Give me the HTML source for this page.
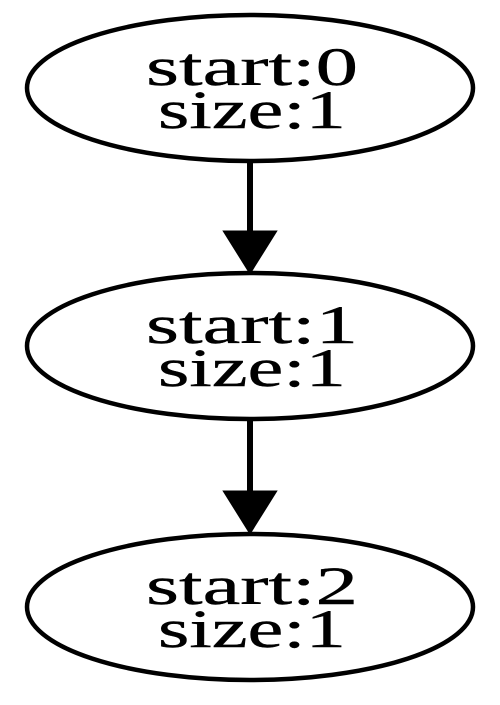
<!DOCTYPE html>
<html><head><style>html,body{margin:0;padding:0;background:#fff;}</style></head>
<body>
<svg width="500" height="700" viewBox="0 0 500 700" xmlns="http://www.w3.org/2000/svg">
<g fill="none" stroke="#000" stroke-width="4.5">
<ellipse cx="250" cy="88" rx="223" ry="73"/>
<ellipse cx="250" cy="346" rx="223" ry="73"/>
<ellipse cx="250" cy="607" rx="223" ry="73"/>
</g>
<g stroke="#000" stroke-width="6">
<line x1="250" y1="161" x2="250" y2="234"/>
<line x1="250" y1="419" x2="250" y2="494"/>
</g>
<polygon points="225,232 275,232 250,272" fill="#000" stroke="#000" stroke-width="3"/>
<polygon points="225,492 275,492 250,532" fill="#000" stroke="#000" stroke-width="3"/>
<g font-family="'Liberation Serif',serif" font-size="54" fill="#000" stroke="#000" stroke-width="0.4">
<text x="146" y="85" textLength="212" lengthAdjust="spacingAndGlyphs">start:0</text>
<text x="158" y="128" textLength="188" lengthAdjust="spacingAndGlyphs">size:1</text>
<text x="146" y="343" textLength="212" lengthAdjust="spacingAndGlyphs">start:1</text>
<text x="158" y="386" textLength="188" lengthAdjust="spacingAndGlyphs">size:1</text>
<text x="146" y="604" textLength="212" lengthAdjust="spacingAndGlyphs">start:2</text>
<text x="158" y="647" textLength="188" lengthAdjust="spacingAndGlyphs">size:1</text>
</g>
</svg>
</body></html>
